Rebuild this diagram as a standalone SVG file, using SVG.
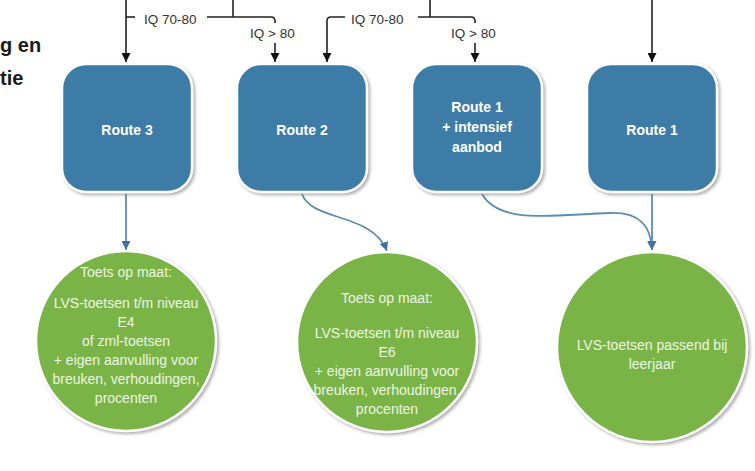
<svg xmlns="http://www.w3.org/2000/svg" width="755" height="471" viewBox="0 0 755 471">
<defs>
<style>
.box{fill:#3e7ba6;stroke:#ffffff;stroke-width:2.5;filter:url(#sh)}
.circ{fill:#7ab446;stroke:#ffffff;stroke-width:2.5;filter:url(#sh)}
.bt{font-family:"Liberation Sans",Arial,sans-serif;font-weight:bold;font-size:14px;fill:#ffffff;text-anchor:middle}
.ct{font-family:"Liberation Sans",Arial,sans-serif;font-size:14px;fill:#edf4e2;text-anchor:middle}
.lb{font-family:"Liberation Sans",Arial,sans-serif;font-size:13.5px;fill:#333333}
.side{font-family:"Liberation Sans",Arial,sans-serif;font-weight:bold;font-size:20px;fill:#1a1a1a}
.k{fill:none;stroke:#222222;stroke-width:1.6}
.b{fill:none;stroke:#5d8cb4;stroke-width:1.8}
</style>
<filter id="sh" x="-10%" y="-10%" width="125%" height="125%">
<feDropShadow dx="2" dy="2" stdDeviation="1.5" flood-color="#808080" flood-opacity="0.6"/>
</filter>
<marker id="ak" viewBox="0 0 10 10" refX="10" refY="5" markerWidth="9" markerHeight="9" markerUnits="userSpaceOnUse" orient="auto">
<path d="M0,0 L10,5 L0,10 Z" fill="#111111"/>
</marker>
<marker id="ab" viewBox="0 0 10 10" refX="10" refY="5" markerWidth="9" markerHeight="9" markerUnits="userSpaceOnUse" orient="auto">
<path d="M0,0 L10,5 L0,10 Z" fill="#3f72a0"/>
</marker>
</defs>
<rect width="755" height="471" fill="#ffffff"/>
<g id="side-text">
<text class="side" x="0" y="52">g en</text>
<text class="side" x="0" y="85">tie</text>
</g>
<g id="connectors">
<path class="k" d="M126,0 V62" marker-end="url(#ak)"/>
<path class="k" d="M126,17 H135"/>
<path class="k" d="M207,17 H271 Q275,17 275,21 V23"/>
<path class="k" d="M233,0 V17"/>
<path class="k" d="M275,43 V62" marker-end="url(#ak)"/>
<path class="k" d="M345,17 H331 Q327,17 327,21 V62" marker-end="url(#ak)"/>
<path class="k" d="M418,17 H471 Q475,17 475,21 V23"/>
<path class="k" d="M430,0 V17"/>
<path class="k" d="M475,43 V62" marker-end="url(#ak)"/>
<path class="k" d="M652,0 V62" marker-end="url(#ak)"/>
<path class="b" d="M126,194 V250" marker-end="url(#ab)"/>
<path class="b" d="M302,194 C312,222 372,212 387,251" marker-end="url(#ab)"/>
<path class="b" d="M482,194 C500,226 560,214 610,213 C640,212 651,226 652,250" marker-end="url(#ab)"/>
<path class="b" d="M652,194 V250" marker-end="url(#ab)"/>
</g>
<g id="labels">
<text class="lb" x="144" y="24">IQ 70-80</text>
<text class="lb" x="250" y="38">IQ &gt; 80</text>
<text class="lb" x="351" y="24">IQ 70-80</text>
<text class="lb" x="451" y="38">IQ &gt; 80</text>
</g>
<g id="route3">
<rect class="box" x="62" y="64" width="130" height="128" rx="24"/>
<text class="bt" x="127" y="135">Route 3</text>
</g>
<g id="route2">
<rect class="box" x="237" y="64" width="130" height="128" rx="24"/>
<text class="bt" x="302" y="135">Route 2</text>
</g>
<g id="route1-intensief">
<rect class="box" x="412" y="64" width="130" height="128" rx="24"/>
<text class="bt" x="477" y="112">Route 1</text>
<text class="bt" x="477" y="132">+ intensief</text>
<text class="bt" x="477" y="152">aanbod</text>
</g>
<g id="route1">
<rect class="box" x="587" y="64" width="130" height="128" rx="24"/>
<text class="bt" x="652" y="135">Route 1</text>
</g>
<g id="toets-e4">
<circle class="circ" cx="126" cy="341" r="90"/>
<text class="ct" x="126" y="277">Toets op maat:</text>
<text class="ct" x="126" y="308">LVS-toetsen t/m niveau</text>
<text class="ct" x="126" y="327">E4</text>
<text class="ct" x="126" y="346">of zml-toetsen</text>
<text class="ct" x="126" y="365">+ eigen aanvulling voor</text>
<text class="ct" x="126" y="384">breuken, verhoudingen,</text>
<text class="ct" x="126" y="403">procenten</text>
</g>
<g id="toets-e6">
<circle class="circ" cx="387" cy="342" r="90"/>
<text class="ct" x="387" y="303">Toets op maat:</text>
<text class="ct" x="387" y="338">LVS-toetsen t/m niveau</text>
<text class="ct" x="387" y="357">E6</text>
<text class="ct" x="387" y="376">+ eigen aanvulling voor</text>
<text class="ct" x="387" y="395">breuken, verhoudingen,</text>
<text class="ct" x="387" y="414">procenten</text>
</g>
<g id="lvs-leerjaar">
<circle class="circ" cx="652" cy="347" r="95"/>
<text class="ct" x="652" y="350">LVS-toetsen passend bij</text>
<text class="ct" x="652" y="369">leerjaar</text>
</g>
</svg>
